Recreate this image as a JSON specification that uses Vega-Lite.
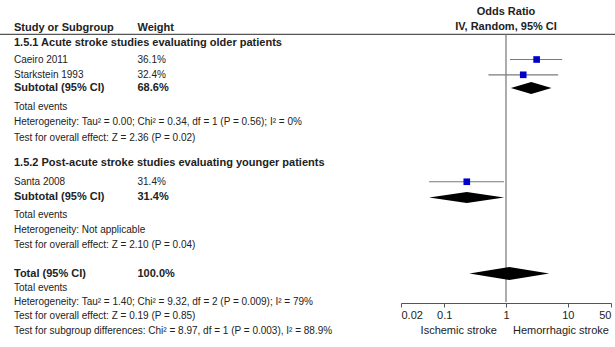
{
  "$schema": "https://vega.github.io/schema/vega-lite/v6.json",
  "width": 615,
  "height": 347,
  "padding": 0,
  "autosize": {"type": "none"},
  "background": "white",
  "config": {"view": {"stroke": null}, "font": "Liberation Sans"},
  "datasets": {
    "textrows": [
      {"label": "Study or Subgroup", "col": 0, "row": 0, "kind": "header"},
      {"label": "Weight", "col": 1, "row": 0, "kind": "header"},
      {"label": "1.5.1 Acute stroke studies evaluating older patients", "col": 0, "row": 1.02, "kind": "group"},
      {"label": "Caeiro 2011", "col": 0, "row": 2.1, "kind": "study"},
      {"label": "36.1%", "col": 1, "row": 2.1, "kind": "study"},
      {"label": "Starkstein 1993", "col": 0, "row": 3.12, "kind": "study"},
      {"label": "32.4%", "col": 1, "row": 3.12, "kind": "study"},
      {"label": "Subtotal (95% CI)", "col": 0, "row": 4.0, "kind": "subtotal"},
      {"label": "68.6%", "col": 1, "row": 4.0, "kind": "subtotal"},
      {"label": "Total events", "col": 0, "row": 5.27, "kind": "stat"},
      {"label": "Heterogeneity: Tau² = 0.00; Chi² = 0.34, df = 1 (P = 0.56); I² = 0%", "col": 0, "row": 6.27, "kind": "stat"},
      {"label": "Test for overall effect: Z = 2.36 (P = 0.02)", "col": 0, "row": 7.33, "kind": "stat"},
      {"label": "1.5.2 Post-acute stroke studies evaluating younger patients", "col": 0, "row": 9.0, "kind": "group"},
      {"label": "Santa 2008", "col": 0, "row": 10.25, "kind": "study"},
      {"label": "31.4%", "col": 1, "row": 10.25, "kind": "study"},
      {"label": "Subtotal (95% CI)", "col": 0, "row": 11.3, "kind": "subtotal"},
      {"label": "31.4%", "col": 1, "row": 11.3, "kind": "subtotal"},
      {"label": "Total events", "col": 0, "row": 12.47, "kind": "stat"},
      {"label": "Heterogeneity: Not applicable", "col": 0, "row": 13.47, "kind": "stat"},
      {"label": "Test for overall effect: Z = 2.10 (P = 0.04)", "col": 0, "row": 14.47, "kind": "stat"},
      {"label": "Total (95% CI)", "col": 0, "row": 16.37, "kind": "total"},
      {"label": "100.0%", "col": 1, "row": 16.37, "kind": "total"},
      {"label": "Total events", "col": 0, "row": 17.33, "kind": "stat"},
      {"label": "Heterogeneity: Tau² = 1.40; Chi² = 9.32, df = 2 (P = 0.009); I² = 79%", "col": 0, "row": 18.27, "kind": "stat"},
      {"label": "Test for overall effect: Z = 0.19 (P = 0.85)", "col": 0, "row": 19.2, "kind": "stat"},
      {"label": "Test for subgroup differences: Chi² = 8.97, df = 1 (P = 0.003), I² = 88.9%", "col": 0, "row": 20.2, "kind": "stat"}
    ],
    "studies": [
      {"study": "Caeiro 2011", "row": 2.1, "or": 3.13, "lo": 1.16, "hi": 8.1, "weight": 36.1},
      {"study": "Starkstein 1993", "row": 3.12, "or": 1.9, "lo": 0.52, "hi": 6.98, "weight": 32.4},
      {"study": "Santa 2008", "row": 10.25, "or": 0.232, "lo": 0.057, "hi": 0.93, "weight": 31.4}
    ],
    "diamonds": [
      {"grp": "Subtotal 1.5.1", "or": 1.2, "top": 4.0, "bottom": 4.0},
      {"grp": "Subtotal 1.5.1", "or": 2.56, "top": 3.6, "bottom": 4.4},
      {"grp": "Subtotal 1.5.1", "or": 5.46, "top": 4.0, "bottom": 4.0},
      {"grp": "Subtotal 1.5.2", "or": 0.057, "top": 11.3, "bottom": 11.3},
      {"grp": "Subtotal 1.5.2", "or": 0.232, "top": 10.93, "bottom": 11.67},
      {"grp": "Subtotal 1.5.2", "or": 0.93, "top": 11.3, "bottom": 11.3},
      {"grp": "Total", "or": 0.256, "top": 16.37, "bottom": 16.37},
      {"grp": "Total", "or": 1.13, "top": 15.94, "bottom": 16.8},
      {"grp": "Total", "or": 4.99, "top": 16.37, "bottom": 16.37}
    ],
    "plotlabels": [
      {"label": "Odds Ratio", "or": 1, "row": -1.05, "kind": "title"},
      {"label": "IV, Random, 95% CI", "or": 1, "row": -0.05, "kind": "title"},
      {"label": "Ischemic stroke", "or": 1, "row": 20.2, "kind": "left"},
      {"label": "Hemorrhagic stroke", "or": 1, "row": 20.2, "kind": "right"}
    ],
    "refline": [
      {"or": 1, "from": 0.43, "to": 18.27}
    ],
    "headerline": [
      {"row": 0.43}
    ]
  },
  "resolve": {"scale": {"x": "independent"}, "axis": {"x": "independent"}},
  "layer": [
    {
      "layer": [
        {
          "data": {"name": "headerline"},
          "mark": {"type": "rule", "color": "#555555", "strokeWidth": 1.2},
          "encoding": {
            "y": {"field": "row", "type": "quantitative", "scale": {"domain": [-1.867, 21.267], "reverse": true, "nice": false, "zero": false}, "axis": null}
          }
        },
        {
          "data": {"name": "textrows"},
          "transform": [{"filter": "datum.kind != 'study' && datum.kind != 'stat'"}],
          "mark": {"type": "text", "align": "left", "baseline": "middle", "fontSize": 11, "fontWeight": "bold", "color": "#222222"},
          "encoding": {
            "x": {"field": "col", "type": "quantitative", "scale": {"domain": [0, 1], "range": [14, 137.5]}, "axis": null},
            "y": {"field": "row", "type": "quantitative", "scale": {"domain": [-1.867, 21.267], "reverse": true, "nice": false, "zero": false}, "axis": null},
            "text": {"field": "label"}
          }
        },
        {
          "data": {"name": "textrows"},
          "transform": [{"filter": "datum.kind == 'study' || datum.kind == 'stat'"}],
          "mark": {"type": "text", "align": "left", "baseline": "middle", "fontSize": 10, "color": "#222222"},
          "encoding": {
            "x": {"field": "col", "type": "quantitative", "scale": {"domain": [0, 1], "range": [14, 137.5]}, "axis": null},
            "y": {"field": "row", "type": "quantitative", "scale": {"domain": [-1.867, 21.267], "reverse": true, "nice": false, "zero": false}, "axis": null},
            "text": {"field": "label"}
          }
        }
      ]
    },
    {
      "layer": [
        {
          "data": {"name": "refline"},
          "mark": {"type": "rule", "color": "#808080", "strokeWidth": 1.3},
          "encoding": {
            "x": {"field": "or", "type": "quantitative", "scale": {"type": "log", "domain": [0.02, 50], "range": [401, 611]}, "axis": {"values": [0.02, 0.1, 1, 10, 50], "title": null, "grid": false, "offset": -44, "labelFlush": true, "labelFontSize": 11, "labelColor": "#222222", "labelFont": "Liberation Sans", "labelPadding": 2, "tickSize": 4, "tickColor": "#555555", "domainColor": "#555555", "format": "~g"}},
            "y": {"field": "from", "type": "quantitative", "scale": {"domain": [-1.867, 21.267], "reverse": true, "nice": false, "zero": false}, "axis": null},
            "y2": {"field": "to"}
          }
        },
        {
          "data": {"name": "studies"},
          "mark": {"type": "rule", "color": "#7a7a7a", "strokeWidth": 1.2},
          "encoding": {
            "x": {"field": "lo", "type": "quantitative", "scale": {"type": "log", "domain": [0.02, 50], "range": [401, 611]}, "axis": {"values": [0.02, 0.1, 1, 10, 50], "title": null, "grid": false, "offset": -44, "labelFlush": true, "labelFontSize": 11, "labelColor": "#222222", "labelFont": "Liberation Sans", "labelPadding": 2, "tickSize": 4, "tickColor": "#555555", "domainColor": "#555555", "format": "~g"}},
            "x2": {"field": "hi"},
            "y": {"field": "row", "type": "quantitative", "scale": {"domain": [-1.867, 21.267], "reverse": true, "nice": false, "zero": false}, "axis": null}
          }
        },
        {
          "data": {"name": "studies"},
          "mark": {"type": "square", "color": "#0000cc", "opacity": 1, "size": 44},
          "encoding": {
            "x": {"field": "or", "type": "quantitative", "scale": {"type": "log", "domain": [0.02, 50], "range": [401, 611]}, "axis": {"values": [0.02, 0.1, 1, 10, 50], "title": null, "grid": false, "offset": -44, "labelFlush": true, "labelFontSize": 11, "labelColor": "#222222", "labelFont": "Liberation Sans", "labelPadding": 2, "tickSize": 4, "tickColor": "#555555", "domainColor": "#555555", "format": "~g"}},
            "y": {"field": "row", "type": "quantitative", "scale": {"domain": [-1.867, 21.267], "reverse": true, "nice": false, "zero": false}, "axis": null}
          }
        },
        {
          "data": {"name": "diamonds"},
          "mark": {"type": "area", "color": "#000000", "interpolate": "linear", "orient": "vertical"},
          "encoding": {
            "x": {"field": "or", "type": "quantitative", "scale": {"type": "log", "domain": [0.02, 50], "range": [401, 611]}, "axis": {"values": [0.02, 0.1, 1, 10, 50], "title": null, "grid": false, "offset": -44, "labelFlush": true, "labelFontSize": 11, "labelColor": "#222222", "labelFont": "Liberation Sans", "labelPadding": 2, "tickSize": 4, "tickColor": "#555555", "domainColor": "#555555", "format": "~g"}},
            "y": {"field": "top", "type": "quantitative", "scale": {"domain": [-1.867, 21.267], "reverse": true, "nice": false, "zero": false}, "axis": null},
            "y2": {"field": "bottom"},
            "detail": {"field": "grp"}
          }
        },
        {
          "data": {"name": "plotlabels"},
          "transform": [{"filter": "datum.kind == 'title'"}],
          "mark": {"type": "text", "align": "center", "baseline": "middle", "fontSize": 11, "fontWeight": "bold", "color": "#222222"},
          "encoding": {
            "x": {"field": "or", "type": "quantitative", "scale": {"type": "log", "domain": [0.02, 50], "range": [401, 611]}, "axis": {"values": [0.02, 0.1, 1, 10, 50], "title": null, "grid": false, "offset": -44, "labelFlush": true, "labelFontSize": 11, "labelColor": "#222222", "labelFont": "Liberation Sans", "labelPadding": 2, "tickSize": 4, "tickColor": "#555555", "domainColor": "#555555", "format": "~g"}},
            "y": {"field": "row", "type": "quantitative", "scale": {"domain": [-1.867, 21.267], "reverse": true, "nice": false, "zero": false}, "axis": null},
            "text": {"field": "label"}
          }
        },
        {
          "data": {"name": "plotlabels"},
          "transform": [{"filter": "datum.kind == 'left'"}],
          "mark": {"type": "text", "align": "right", "baseline": "middle", "fontSize": 11, "dx": -9, "color": "#222222"},
          "encoding": {
            "x": {"field": "or", "type": "quantitative", "scale": {"type": "log", "domain": [0.02, 50], "range": [401, 611]}, "axis": {"values": [0.02, 0.1, 1, 10, 50], "title": null, "grid": false, "offset": -44, "labelFlush": true, "labelFontSize": 11, "labelColor": "#222222", "labelFont": "Liberation Sans", "labelPadding": 2, "tickSize": 4, "tickColor": "#555555", "domainColor": "#555555", "format": "~g"}},
            "y": {"field": "row", "type": "quantitative", "scale": {"domain": [-1.867, 21.267], "reverse": true, "nice": false, "zero": false}, "axis": null},
            "text": {"field": "label"}
          }
        },
        {
          "data": {"name": "plotlabels"},
          "transform": [{"filter": "datum.kind == 'right'"}],
          "mark": {"type": "text", "align": "left", "baseline": "middle", "fontSize": 11, "dx": 7, "color": "#222222"},
          "encoding": {
            "x": {"field": "or", "type": "quantitative", "scale": {"type": "log", "domain": [0.02, 50], "range": [401, 611]}, "axis": {"values": [0.02, 0.1, 1, 10, 50], "title": null, "grid": false, "offset": -44, "labelFlush": true, "labelFontSize": 11, "labelColor": "#222222", "labelFont": "Liberation Sans", "labelPadding": 2, "tickSize": 4, "tickColor": "#555555", "domainColor": "#555555", "format": "~g"}},
            "y": {"field": "row", "type": "quantitative", "scale": {"domain": [-1.867, 21.267], "reverse": true, "nice": false, "zero": false}, "axis": null},
            "text": {"field": "label"}
          }
        }
      ]
    }
  ]
}
